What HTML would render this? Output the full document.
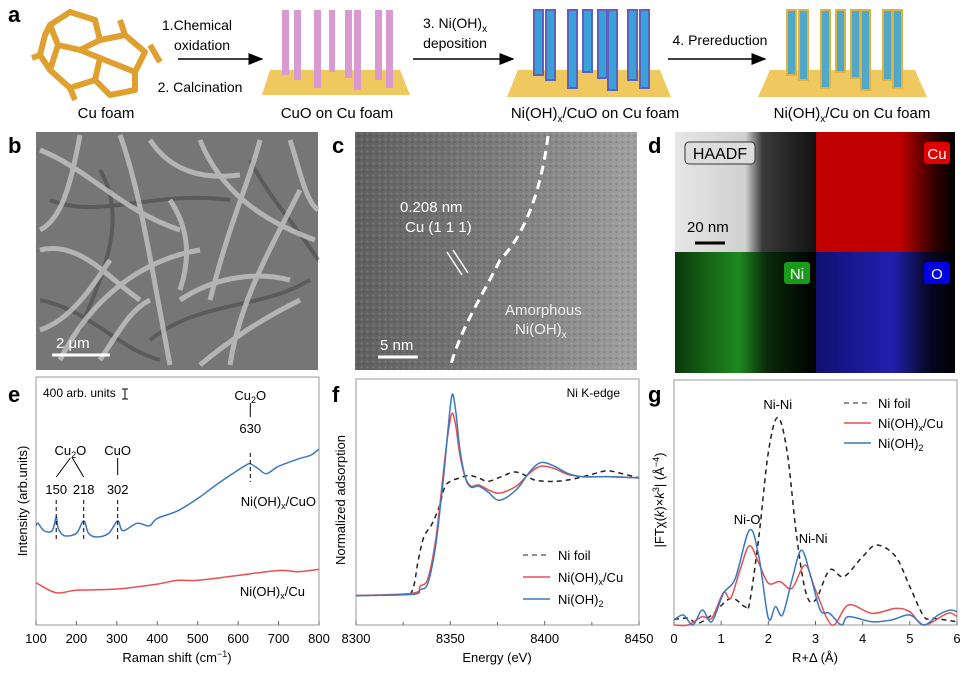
<!DOCTYPE html>
<html><head><meta charset="utf-8"><style>
html,body{margin:0;padding:0;background:#fff;}
svg{display:block;font-family:"Liberation Sans",Arial,sans-serif;}
</style></head><body>
<svg id="fig" width="973" height="682" viewBox="0 0 973 682" xmlns="http://www.w3.org/2000/svg">
<defs>
<linearGradient id="cGrad" x1="0" x2="1"><stop offset="0" stop-color="#606060"/><stop offset="0.55" stop-color="#7e7e7e"/><stop offset="1" stop-color="#a0a0a0"/></linearGradient>
<linearGradient id="haadf" x1="0" x2="1"><stop offset="0" stop-color="#e6e6e6"/><stop offset="0.5" stop-color="#d0d0d0"/><stop offset="0.62" stop-color="#3a3a3a"/><stop offset="1" stop-color="#111"/></linearGradient>
<linearGradient id="cuG" x1="0" x2="1"><stop offset="0" stop-color="#c00000"/><stop offset="0.6" stop-color="#c00000"/><stop offset="0.85" stop-color="#300"/><stop offset="1" stop-color="#000"/></linearGradient>
<linearGradient id="niG" x1="0" x2="1"><stop offset="0" stop-color="#0a3a0a"/><stop offset="0.45" stop-color="#1f8a1f"/><stop offset="0.65" stop-color="#0a2a0a"/><stop offset="1" stop-color="#000"/></linearGradient>
<linearGradient id="oG" x1="0" x2="1"><stop offset="0" stop-color="#101070"/><stop offset="0.55" stop-color="#2020b0"/><stop offset="0.8" stop-color="#08082a"/><stop offset="1" stop-color="#000"/></linearGradient>
<pattern id="grain" width="6" height="6" patternUnits="userSpaceOnUse"><rect width="6" height="6" fill="none"/><circle cx="1.5" cy="1.5" r="1" fill="#fff" opacity="0.15"/><circle cx="4.5" cy="4" r="1" fill="#000" opacity="0.15"/></pattern>
<marker id="arr" markerWidth="10" markerHeight="8" refX="9" refY="4" orient="auto"><path d="M0,0 L10,4 L0,8 Z" fill="#000"/></marker>
</defs>

<!-- Panel a -->
<g>
<text x="8" y="22" font-size="22" font-weight="bold">a</text>
<g stroke="#e0a030" stroke-width="6" fill="none" stroke-linejoin="round">
<path d="M50,25 L70,12 L95,20 L100,40 L80,50 L58,45 Z"/>
<path d="M58,45 L50,70 L70,88 L95,80 L100,58 L80,50"/>
<path d="M100,40 L125,35 L145,52 L135,72 L100,58"/>
<path d="M95,80 L110,95 L135,90 L135,72"/>
<path d="M50,70 L40,55 L45,35 L50,25"/>
<path d="M120,20 L125,35 M150,45 L160,62 M70,88 L75,100 M40,55 L32,58"/>
</g>
<text x="106" y="118" font-size="15" text-anchor="middle">Cu foam</text>
<text x="197" y="30" font-size="14" text-anchor="middle">1.Chemical</text>
<text x="202" y="50" font-size="14" text-anchor="middle">oxidation</text>
<line x1="178" y1="59" x2="262" y2="59" stroke="#000" stroke-width="1.5" marker-end="url(#arr)"/>
<text x="200" y="92" font-size="14" text-anchor="middle">2. Calcination</text>
<g>
<polygon points="262,95 410,95 400,70 270,70" fill="#f0c860"/>
<g fill="#d89ad0">
<rect x="282" y="10" width="7" height="65"/><rect x="294" y="10" width="7" height="70"/><rect x="314" y="10" width="7" height="78"/><rect x="329" y="10" width="6" height="62"/><rect x="345" y="10" width="7" height="68"/><rect x="354" y="10" width="7" height="80"/><rect x="375" y="10" width="7" height="70"/><rect x="386" y="10" width="7" height="78"/>
</g></g>
<text x="337" y="118" font-size="15" text-anchor="middle">CuO on Cu foam</text>
<text x="455" y="28" font-size="14" text-anchor="middle">3. Ni(OH)<tspan font-size="10" dy="4">x</tspan></text>
<text x="455" y="48" font-size="14" text-anchor="middle">deposition</text>
<line x1="413" y1="59" x2="513" y2="59" stroke="#000" stroke-width="1.5" marker-end="url(#arr)"/>
<g>
<polygon points="507,97 671,97 660,70 518,70" fill="#f0c860"/>
<g fill="#3aa0d8" stroke="#6060c0" stroke-width="2">
<rect x="534" y="10" width="9" height="65"/><rect x="546" y="10" width="9" height="70"/><rect x="568" y="10" width="9" height="78"/><rect x="583" y="10" width="9" height="62"/><rect x="598" y="10" width="9" height="68"/><rect x="608" y="10" width="9" height="80"/><rect x="628" y="10" width="9" height="70"/><rect x="640" y="10" width="9" height="78"/>
</g></g>
<text x="595" y="118" font-size="15" text-anchor="middle">Ni(OH)<tspan font-size="10" dy="4">x</tspan><tspan dy="-4">/CuO on Cu foam</tspan></text>
<text x="720" y="45" font-size="14" text-anchor="middle">4. Prereduction</text>
<line x1="668" y1="59" x2="765" y2="59" stroke="#000" stroke-width="1.5" marker-end="url(#arr)"/>
<g>
<polygon points="758,97 927,97 915,70 770,70" fill="#f0c860"/>
<g fill="#50a8c8" stroke="#e0b040" stroke-width="2">
<rect x="787" y="10" width="9" height="65"/><rect x="799" y="10" width="9" height="70"/><rect x="821" y="10" width="9" height="78"/><rect x="836" y="10" width="9" height="62"/><rect x="851" y="10" width="9" height="68"/><rect x="861" y="10" width="9" height="80"/><rect x="883" y="10" width="9" height="70"/><rect x="893" y="10" width="9" height="78"/>
</g></g>
<text x="852" y="118" font-size="15" text-anchor="middle">Ni(OH)<tspan font-size="10" dy="4">x</tspan><tspan dy="-4">/Cu on Cu foam</tspan></text>
</g>

<!-- Panel b -->
<g>
<text x="8" y="153" font-size="22" font-weight="bold">b</text>
<rect x="36" y="132" width="282" height="238" fill="#767676"/>
<g stroke="#4a4a4a" stroke-width="4" fill="none" opacity="0.6">
<path d="M50,200 C100,220 150,190 230,200"/><path d="M150,340 C200,300 260,310 310,280"/><path d="M100,170 C130,220 100,280 80,330"/><path d="M40,300 C90,310 120,350 160,360"/><path d="M250,160 C270,200 300,230 318,260"/>
</g>
<g stroke="#c4c4c4" stroke-width="5" fill="none" opacity="0.8">
<path d="M40,150 C90,170 120,210 180,230"/><path d="M60,360 C90,300 140,260 200,250"/><path d="M120,135 C140,190 150,260 170,365"/><path d="M200,140 C220,190 260,220 315,240"/><path d="M230,365 C240,300 270,250 300,190"/><path d="M40,250 C80,240 110,280 140,300"/><path d="M260,140 C250,180 230,220 210,300"/><path d="M300,300 C260,320 230,340 200,365"/><path d="M80,135 C70,190 60,220 40,230"/>
<path d="M150,140 C170,170 200,180 240,175"/><path d="M40,330 C70,320 90,290 110,260"/><path d="M180,300 C210,280 250,270 290,280"/><path d="M170,200 C190,230 190,260 180,290"/><path d="M290,140 C300,170 305,200 318,210"/><path d="M100,360 C120,330 130,310 150,300"/>
</g>
<line x1="52" y1="355" x2="110" y2="355" stroke="#fff" stroke-width="3"/>
<text x="56" y="348" font-size="15" fill="#fff">2 μm</text>
</g>

<!-- Panel c -->
<g>
<text x="332" y="153" font-size="22" font-weight="bold">c</text>
<rect x="355" y="132" width="282" height="238" fill="url(#cGrad)"/>
<rect x="355" y="132" width="282" height="238" fill="url(#grain)"/>
<path d="M548,136 C540,200 520,240 500,260 C480,300 460,330 450,368" stroke="#fff" stroke-width="3" stroke-dasharray="9,6" fill="none"/>
<text x="400" y="212" font-size="15" fill="#fff">0.208 nm</text>
<text x="405" y="232" font-size="15" fill="#fff">Cu (1 1 1)</text>
<line x1="447" y1="252" x2="462" y2="275" stroke="#fff" stroke-width="1.5"/><line x1="453" y1="250" x2="468" y2="273" stroke="#fff" stroke-width="1.5"/>
<text x="505" y="315" font-size="15" fill="#eee">Amorphous</text>
<text x="515" y="334" font-size="15" fill="#eee">Ni(OH)<tspan font-size="10" dy="4">x</tspan></text>
<line x1="378" y1="357" x2="418" y2="357" stroke="#fff" stroke-width="3"/>
<text x="380" y="350" font-size="15" fill="#fff">5 nm</text>
</g>

<!-- Panel d -->
<g>
<text x="648" y="153" font-size="22" font-weight="bold">d</text>
<rect x="675" y="132" width="141" height="120" fill="url(#haadf)"/>
<rect x="816" y="132" width="139" height="120" fill="url(#cuG)"/>
<rect x="675" y="252" width="141" height="121" fill="url(#niG)"/>
<rect x="816" y="252" width="139" height="121" fill="url(#oG)"/>
<rect x="685" y="142" width="70" height="22" rx="4" fill="#ddd" stroke="#333"/>
<text x="720" y="159" font-size="16" text-anchor="middle">HAADF</text>
<rect x="924" y="142" width="26" height="22" rx="3" fill="#e00000"/><text x="937" y="159" font-size="15" fill="#fff" text-anchor="middle">Cu</text>
<rect x="784" y="262" width="26" height="22" rx="3" fill="#1a9a1a"/><text x="797" y="279" font-size="15" fill="#fff" text-anchor="middle">Ni</text>
<rect x="924" y="262" width="26" height="22" rx="3" fill="#0000e0"/><text x="937" y="279" font-size="15" fill="#fff" text-anchor="middle">O</text>
<text x="687" y="232" font-size="15" fill="#000">20 nm</text>
<line x1="695" y1="243" x2="725" y2="243" stroke="#000" stroke-width="3"/>
</g>

<g id="charts"></g>
</svg>
<script>
// ---- Panel e data ----
const eX = [100,105,120,140,150,155,170,200,218,230,250,280,302,315,350,380,400,450,500,550,600,620,630,650,670,700,750,780,800];
const eBlue = [40,41,38,38,43.5,39,36,37,42,37,35.5,37,42,38,41,40,43,46,51,57,62.5,64.5,65,63,61,64,67,68.5,71];
const eRedX = [100,150,200,300,400,450,500,600,700,750,800];
const eRed = [17,13,14,14.5,16.5,18,18,20,22,21.5,22.5];
const eTicks = [100,200,300,400,500,600,700,800];
// ---- Panel f data ----
const fBlueX = [8300,8330,8334,8338,8342,8345,8347,8349,8351,8353,8355,8358,8361,8365,8370,8376,8385,8392,8398,8405,8412,8420,8435,8450];
const fBlue = [0,0.01,0.05,0.1,0.4,0.8,1.1,1.45,1.71,1.55,1.25,1.0,0.92,0.93,0.88,0.81,0.9,1.05,1.13,1.1,1.04,1.01,1.01,1.0];
const fRed = [0,0.02,0.08,0.14,0.45,0.85,1.15,1.4,1.55,1.43,1.2,1.0,0.93,0.94,0.9,0.87,0.93,1.04,1.1,1.08,1.03,1.01,1.01,1.0];
const fFoilX = [8300,8325,8330,8333,8336,8340,8344,8347,8350,8355,8360,8365,8370,8377,8384,8390,8395,8405,8415,8425,8433,8440,8450];
const fFoil = [0,0.01,0.05,0.3,0.5,0.6,0.75,0.92,0.97,1.0,1.02,1.0,0.97,1.01,1.05,1.02,0.98,0.97,0.99,1.03,1.06,1.04,1.0];
const fTicks = [8300,8350,8400,8450];
// ---- Panel g data ----
const gFoilX = [0,0.3,0.5,0.8,1.2,1.5,1.6,1.8,2.0,2.2,2.4,2.6,2.8,3.0,3.3,3.6,4.0,4.3,4.7,5.0,5.3,5.5,6.0];
const gFoil = [0.24,0.29,0.07,0.43,1.14,0.79,0.93,3.8,7.4,8.9,7.4,3.8,1.36,1.07,2.36,2.07,2.93,3.43,2.93,1.64,0.36,0.29,0.14];
const gRedX = [0,0.3,0.6,0.8,1.05,1.2,1.4,1.6,1.8,2.0,2.25,2.5,2.78,3.0,3.35,3.7,4.2,4.7,5.0,5.3,5.8,6.0];
const gRed = [0,0,0.36,0.29,1.39,1.14,2.36,3.4,2.64,1.79,1.86,1.57,2.57,1.5,0,0.86,0.5,0.71,0.57,0,0.5,0.36];
const gBlueX = [0,0.2,0.4,0.6,0.8,1.05,1.3,1.6,1.8,2.0,2.15,2.3,2.5,2.7,2.9,3.1,3.3,3.55,3.7,4.2,4.6,5.0,5.3,5.6,5.85,6.0];
const gBlue = [0.21,0.43,0,0.64,0.14,1.36,2.0,4.07,2.93,0.29,0.79,0.43,1.93,3.21,2.07,0.64,0.5,0,0.36,0.14,0.21,0.43,0,0.43,0.64,0.57];
const gTicks = [0,1,2,3,4,5,6];

const NS = "http://www.w3.org/2000/svg";
const root = document.getElementById('charts');
function mk(tag, attrs, parent){ const el=document.createElementNS(NS,tag); for(const k in attrs) el.setAttribute(k,attrs[k]); (parent||root).appendChild(el); return el; }
function scale(d0,d1,r0,r1){ return v => r0 + (v-d0)/(d1-d0)*(r1-r0); }
function pathD(xs,ys,sx,sy){
  const p = xs.map((x,i)=>[sx(x),sy(ys[i])]);
  let d = "M"+p[0][0].toFixed(2)+","+p[0][1].toFixed(2);
  for(let i=0;i<p.length-1;i++){
    const p0=p[i-1]||p[i], p1=p[i], p2=p[i+1], p3=p[i+2]||p2;
    const c1=[p1[0]+(p2[0]-p0[0])/6, p1[1]+(p2[1]-p0[1])/6];
    const c2=[p2[0]-(p3[0]-p1[0])/6, p2[1]-(p3[1]-p1[1])/6];
    d+=" C"+c1.map(v=>v.toFixed(2))+" "+c2.map(v=>v.toFixed(2))+" "+p2[0].toFixed(2)+","+p2[1].toFixed(2);
  }
  return d;
}
function frame(g,x0,x1,y0,y1,ticks,sx,name){
  const r = mk('rect',{x:x0,y:y0,width:x1-x0,height:y1-y0,fill:'none',stroke:'#999','stroke-width':1},g);
  
  
  ticks.forEach(t=>{
    const l = mk('line',{x1:sx(t),x2:sx(t),y1:y1,y2:y1-4,stroke:'#666'},g);
    
    
    const tx = mk('text',{x:sx(t),y:y1+18,'font-size':13,'text-anchor':'middle'},g);
    tx.textContent = t;
    
    
  });
}
function series(g,xs,ys,sx,sy,color,dash,name){
  const p = mk('path',{d:pathD(xs,ys,sx,sy),fill:'none',stroke:color,'stroke-width':1.5,'stroke-dasharray':dash||'none'},g);
  
  
}
function txt(g,x,y,s,size,anchor,name,extra){
  const t = mk('text',Object.assign({x:x,y:y,'font-size':size,'text-anchor':anchor||'start'},extra||{}),g);
  t.innerHTML = s;
  
  
  return t;
}

// ---- Panel e ----
const ge = mk('g',{});


const esx = scale(100,800,36,319), esy = scale(0,100,625,377);
frame(ge,36,319,377,625,eTicks,esx,'raman');
series(ge,eRedX,eRed,esx,esy,'#e85050',null,'nioh-cu-raman-line');
series(ge,eX,eBlue,esx,esy,'#3a78c0',null,'nioh-cuo-raman-line');
[150,218,302].forEach(p=>{ const l=mk('line',{x1:esx(p),x2:esx(p),y1:500,y2:540,stroke:'#000','stroke-dasharray':'4,3'},ge);   });
mk('line',{x1:esx(630),x2:esx(630),y1:453,y2:482,stroke:'#000','stroke-dasharray':'4,3'},ge);
mk('line',{x1:esx(630),x2:esx(630),y1:403,y2:417,stroke:'#000'},ge);
mk('line',{x1:esx(302),x2:esx(302),y1:458,y2:475,stroke:'#000'},ge);
mk('line',{x1:esx(150),x2:esx(185),y1:477,y2:458,stroke:'#000'},ge);
mk('line',{x1:esx(218),x2:esx(190),y1:477,y2:458,stroke:'#000'},ge);
txt(ge,8,402,'e',22,'start','panel-label-e',{'font-weight':'bold'});
txt(ge,43,397,'400 arb. units',12,'start','scale-annotation');
mk('path',{d:'M125,389 L125,399 M122,389 L128,389 M122,399 L128,399',stroke:'#000'},ge);
txt(ge,esx(630),400,'Cu<tspan font-size="9" dy="3">2</tspan><tspan dy="-3">O</tspan>',13,'middle','cu2o-630-label');
txt(ge,esx(630),433,'630',13,'middle','peak-630-label');
txt(ge,esx(185),455,'Cu<tspan font-size="9" dy="3">2</tspan><tspan dy="-3">O</tspan>',13,'middle','cu2o-label');
txt(ge,esx(302),455,'CuO',13,'middle','cuo-label');
txt(ge,esx(150),494,'150',13,'middle','peak-150-label');
txt(ge,esx(218),494,'218',13,'middle','peak-218-label');
txt(ge,esx(302),494,'302',13,'middle','peak-302-label');
txt(ge,316,506,'Ni(OH)<tspan font-size="9" dy="3">x</tspan><tspan dy="-3">/CuO</tspan>',13,'end','nioh-cuo-label');
txt(ge,305,596,'Ni(OH)<tspan font-size="9" dy="3">x</tspan><tspan dy="-3">/Cu</tspan>',13,'end','nioh-cu-label');
txt(ge,177,662,'Raman shift (cm<tspan font-size="9" dy="-5">−1</tspan><tspan dy="5">)</tspan>',13,'middle','x-axis-title-e');
txt(ge,0,0,'Intensity (arb.units)',13,'middle','y-axis-title-e',{transform:'translate(27,501) rotate(-90)'});

// ---- Panel f ----
const gf = mk('g',{});


const fsx = scale(8300,8450,356,639), fsy = scale(-0.25,1.84,625,379);
frame(gf,356,639,379,625,fTicks,fsx,'xanes');
[8325,8375,8425].forEach(t=>{ const l=mk('line',{x1:fsx(t),x2:fsx(t),y1:625,y2:622,stroke:'#666'},gf);   });
series(gf,fFoilX,fFoil,fsx,fsy,'#222','5,4','ni-foil-xanes-line');
series(gf,fBlueX,fRed,fsx,fsy,'#e85050',null,'nioh-cu-xanes-line');
series(gf,fBlueX,fBlue,fsx,fsy,'#3a78c0',null,'nioh2-xanes-line');
txt(gf,332,402,'f',22,'start','panel-label-f',{'font-weight':'bold'});
txt(gf,620,397,'Ni K-edge',12,'end','edge-label');
mk('line',{x1:523,x2:550,y1:555,y2:555,stroke:'#222','stroke-dasharray':'5,4'},gf);
mk('line',{x1:523,x2:550,y1:577,y2:577,stroke:'#e85050','stroke-width':1.5},gf);
mk('line',{x1:523,x2:550,y1:599,y2:599,stroke:'#3a78c0','stroke-width':1.5},gf);
txt(gf,558,560,'Ni foil',13,'start','legend-ni-foil');
txt(gf,558,582,'Ni(OH)<tspan font-size="9" dy="3">x</tspan><tspan dy="-3">/Cu</tspan>',13,'start','legend-nioh-cu');
txt(gf,558,604,'Ni(OH)<tspan font-size="9" dy="3">2</tspan>',13,'start','legend-nioh2');
txt(gf,497,662,'Energy (eV)',13,'middle','x-axis-title-f');
txt(gf,0,0,'Normalized adsorption',13,'middle','y-axis-title-f',{transform:'translate(345,500) rotate(-90)'});

// ---- Panel g ----
const gg = mk('g',{});


const gsx = scale(0,6,674,957), gsy = scale(0,10.5,625,380);
frame(gg,674,957,380,625,gTicks,gsx,'exafs');
series(gg,gFoilX,gFoil,gsx,gsy,'#222','5,4','ni-foil-exafs-line');
series(gg,gRedX,gRed,gsx,gsy,'#e85050',null,'nioh-cu-exafs-line');
series(gg,gBlueX,gBlue,gsx,gsy,'#3a78c0',null,'nioh2-exafs-line');
txt(gg,648,402,'g',22,'start','panel-label-g',{'font-weight':'bold'});
txt(gg,gsx(2.2),409,'Ni-Ni',13,'middle','ni-ni-first-shell-label');
txt(gg,gsx(1.55),524,'Ni-O',13,'middle','ni-o-label');
txt(gg,gsx(2.95),543,'Ni-Ni',13,'middle','ni-ni-second-shell-label');
mk('line',{x1:844,x2:871,y1:403,y2:403,stroke:'#222','stroke-dasharray':'5,4'},gg);
mk('line',{x1:844,x2:871,y1:423,y2:423,stroke:'#e85050','stroke-width':1.5},gg);
mk('line',{x1:844,x2:871,y1:443,y2:443,stroke:'#3a78c0','stroke-width':1.5},gg);
txt(gg,878,408,'Ni foil',13,'start','legend-ni-foil-g');
txt(gg,878,428,'Ni(OH)<tspan font-size="9" dy="3">x</tspan><tspan dy="-3">/Cu</tspan>',13,'start','legend-nioh-cu-g');
txt(gg,878,448,'Ni(OH)<tspan font-size="9" dy="3">2</tspan>',13,'start','legend-nioh2-g');
txt(gg,815,662,'R+Δ (Å)',13,'middle','x-axis-title-g');
txt(gg,0,0,'|FTχ(<tspan font-style="italic">k</tspan>)×<tspan font-style="italic">k</tspan><tspan font-size="9" dy="-5">3</tspan><tspan dy="5">| (Å</tspan><tspan font-size="9" dy="-5">−4</tspan><tspan dy="5">)</tspan>',13,'middle','y-axis-title-g',{transform:'translate(664,500) rotate(-90)'});
</script>
</body></html>
